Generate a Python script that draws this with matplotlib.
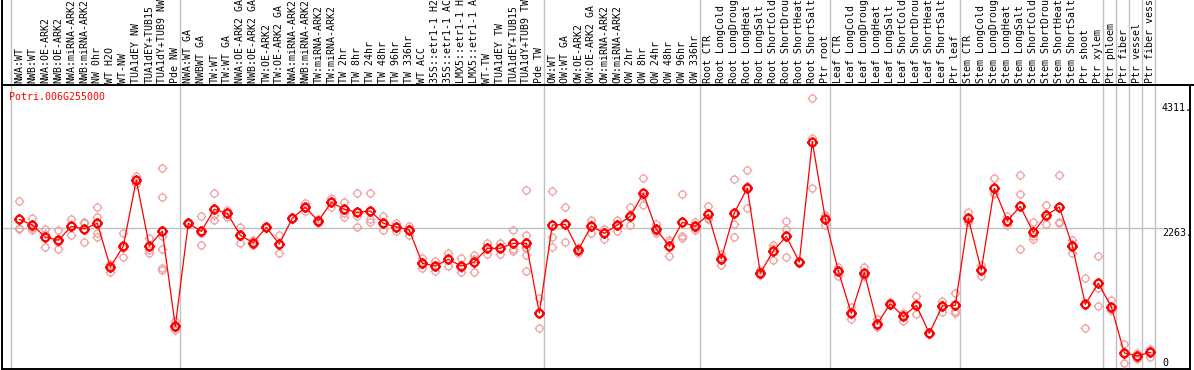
import numpy as np
import matplotlib
matplotlib.use("Agg")
import matplotlib.pyplot as plt
from matplotlib.path import Path

# ---------------- data ----------------
gene = "Potri.006G255000"

labels_g1 = ["NWA:WT", "NWB:WT", "NWA:OE-ARK2", "NWB:OE-ARK2", "NWA:miRNA-ARK2",
             "NWB:miRNA-ARK2", "NW 0hr", "WT H2O", "WT-NW", "TUA1dEY NW",
             "TUA1dEY+TUB15", "TUA1dY+TUB9 NW", "Pde NW"]
labels_g2 = ["NWA:WT GA", "NWBWT GA", "TW:WT", "TW:WT GA", "NWA:OE-ARK2 GA",
             "NWB:OE-ARK2 GA", "TW:OE-ARK2", "TW:OE-ARK2 GA", "NWA:miRNA-ARK2",
             "NWB:miRNA-ARK2", "TW:miRNA-ARK2", "TW:miRNA-ARK2", "TW 2hr", "TW 8hr",
             "TW 24hr", "TW 48hr", "TW 96hr", "TW 336hr", "WT ACC", "35S::etr1-1 H2",
             "35S::etr1-1 AC", "LMX5::etr1-1 H", "LMX5::etr1-1 A", "WT-TW",
             "TUA1dEY TW", "TUA1dEY+TUB15", "TUA1dY+TUB9 TW", "Pde TW"]
labels_g3 = ["OW:WT", "OW:WT GA", "OW:OE-ARK2", "OW:OE-ARK2 GA", "OW:miRNA-ARK2",
             "OW:miRNA-ARK2", "OW 2hr", "OW 8hr", "OW 24hr", "OW 48hr", "OW 96hr",
             "OW 336hr"]
labels_g4 = ["Root CTR", "Root LongCold", "Root LongDroug", "Root LongHeat",
             "Root LongSalt", "Root ShortCold", "Root ShortDrou", "Root ShortHeat",
             "Root ShortSalt", "Ptr root"]
labels_g5 = ["Leaf CTR", "Leaf LongCold", "Leaf LongDroug", "Leaf LongHeat",
             "Leaf LongSalt", "Leaf ShortCold", "Leaf ShortDrou", "Leaf ShortHeat",
             "Leaf ShortSalt", "Ptr leaf"]
labels_g6 = ["Stem CTR", "Stem LongCold", "Stem LongDroug", "Stem LongHeat",
             "Stem LongSalt", "Stem ShortCold", "Stem ShortDrou", "Stem ShortHeat",
             "Stem ShortSalt", "Ptr shoot", "Ptr xylem"]
labels_g7 = ["Ptr phloem", "Ptr fiber", "Ptr vessel", "Ptr fiber vess"]

groups = [labels_g1, labels_g2, labels_g3, labels_g4, labels_g5, labels_g6,
          [labels_g7[0]], [labels_g7[1]], [labels_g7[2]], [labels_g7[3]]]

means = [2400, 2307, 2111, 2056, 2285, 2242, 2335, 1619, 1958, 3045, 1963, 2209, 647,
         2335, 2203, 2564, 2498, 2138, 2018, 2269, 1996, 2416, 2597, 2373, 2679, 2564,
         2515, 2537, 2335, 2274, 2225, 1679, 1635, 1745, 1635, 1701, 1925, 1925, 2007,
         2007, 865, 2307, 2318, 1898, 2291, 2171, 2307, 2449, 2826, 2236, 1963, 2351,
         2285, 2482, 1756, 2504, 2914, 1521, 1881, 2122, 1701, 3673, 2411, 1554, 860,
         1526, 690, 1018, 811, 991, 532, 980, 991, 2416, 1570, 2908, 2378, 2613, 2187,
         2466, 2602, 1969, 1007, 1351, 969, 210, 161, 221]

replicates = [
    [2700, 2264, 2240], [2422, 2264, 2225], [2236, 1941, 2156], [2225, 1909, 2034],
    [2406, 2143, 2305], [2351, 2335, 2023], [2602, 2438, 2171, 2105], [1641, 1542, 1674],
    [2171, 1777, 1926], [3110, 2974, 3051], [2089, 1854, 1898],
    [3236, 2761, 2132, 1909, 1597, 1570], [734, 587, 620],
    [2351, 2318, 2336], [2449, 1979, 2181], [2826, 2389, 2477], [2553, 2444, 2497],
    [2274, 2018, 2122], [2056, 1974, 2024], [2275, 2262, 2270], [2138, 1854, 1996],
    [2425, 2408, 2416], [2673, 2531, 2587], [2411, 2345, 2363], [2744, 2608, 2685],
    [2679, 2498, 2438], [2832, 2455, 2269], [2832, 2411, 2351], [2449, 2220, 2336],
    [2335, 2214, 2273], [2291, 2143, 2241], [1761, 1608, 1668], [1712, 1554, 1639],
    [1843, 1641, 1751], [1761, 1542, 1602], [1816, 1532, 1755], [2018, 1832, 1925],
    [2018, 1832, 1925], [2225, 1876, 1920], [2881, 2143, 1952, 1925, 1816, 1554],
    [1106, 620, 870], [2864, 2105, 1952],
    [2602, 2023, 2330], [1925, 1843, 1926], [2389, 2171, 2313], [2240, 2072, 2200],
    [2389, 2203, 2330], [2602, 2313, 2432], [3072, 2630, 2776], [2324, 2171, 2213],
    [2062, 1799, 2028], [2810, 2132, 2089], [2362, 2231, 2262], [2613, 2422, 2411],
    [1832, 1646, 1790], [3061, 2318, 2111], [3209, 2586, 2947], [1570, 1482, 1511],
    [1985, 1728, 1930], [2373, 2236, 1783], [1720, 1690, 1693],
    [4383, 3727, 2908], [2471, 2307, 2455], [1624, 1471, 1567], [969, 761, 850],
    [1624, 1488, 1466], [772, 630, 668], [1045, 991, 1018], [871, 740, 822],
    [1144, 843, 986], [540, 525, 532],
    [1067, 882, 991], [1198, 871, 904], [2520, 2362, 2366], [1652, 1477, 1581],
    [3072, 2815, 2837], [2455, 2313, 2366], [3127, 2810, 1909], [2351, 2078, 2132],
    [2635, 2318, 2445], [3127, 2362, 2335], [2062, 1843, 2002],
    [1433, 996, 614], [1799, 1269, 974], [1078, 914, 915], [357, 40, 233],
    [215, 117, 151], [270, 150, 243]]

ytick_values = [0, 2263, 4311]
ytick_labels = ["0", "2263.", "4311."]

# ---------------- layout helpers ----------------
W, H = 1194, 370
X0, DX = 19.3, 13.0          # pixel of first category and spacing


def px2i(p):
    return (p - X0) / DX


def py2v(p):
    return (365.8 - p) * 2263 / 138.1


labels = [l for g in groups for l in g]
n = len(labels)
xs = np.arange(n)
starts = np.cumsum([0] + [len(g) for g in groups])  # group boundaries
bounds = starts - 0.64

fig = plt.figure(figsize=(W / 100, H / 100), dpi=100)
fig.patch.set_facecolor("white")

L, R, TOP, BOT = 1.5, 1190.0, 85.0, 369.0
ax = fig.add_axes([L / W, (H - BOT) / H, (R - L) / W, (BOT - TOP) / H])
ax.set_xlim(px2i(L), px2i(R))
ax.set_ylim(py2v(BOT), py2v(TOP))
ax.set_xticks([])
ax.set_yticks([])
for s in ax.spines.values():
    s.set_color("black")
    s.set_linewidth(1.4)
    s.set_zorder(1)

hx = fig.add_axes([L / W, (H - TOP) / H, (W - L) / W, TOP / H])
hx.set_xlim(px2i(L), px2i(W))
hx.set_ylim(0, TOP)
hx.set_xticks([])
hx.set_yticks([])
for k, s in hx.spines.items():
    s.set_visible(k in ("left", "bottom"))
    s.set_color("black")
    s.set_linewidth(1.4)

grid_c = "#c0c0c0"
for b in bounds:
    ax.axvline(b, color=grid_c, lw=1.0, zorder=0)
    hx.axvline(b, color=grid_c, lw=1.0, zorder=0)

# horizontal grid line at middle tick
ax.axhline(ytick_values[1], xmin=0, xmax=(1162 - L) / (R - L), color=grid_c,
           lw=1.0, zorder=0)

# y tick labels at right
mono = "DejaVu Sans Mono"
lx = (1162 - L) / (R - L)
for v, t in zip(ytick_values, ytick_labels):
    yv = py2v(357.5) if v == 0 else v
    ax.text(lx, yv, t, transform=ax.get_yaxis_transform(), ha="left",
            va="top", fontsize=7.2, family=mono, color="black", zorder=6)

# header labels
for x, lab in zip(xs, labels):
    hx.text(x, 2.0, lab, rotation=90, ha="center", va="bottom", fontsize=7.1,
            family=mono, color="black")

# marker: circle with small ticks
t = np.linspace(0, 2 * np.pi, 33)
circ_v = np.column_stack([np.cos(t), np.sin(t)])
verts = [tuple(p) for p in circ_v]
codes = [Path.MOVETO] + [Path.LINETO] * (len(circ_v) - 1)
r1, r2 = 1.0, 1.4
for a in (0, np.pi / 2, np.pi, 3 * np.pi / 2):
    verts += [(r1 * np.cos(a), r1 * np.sin(a)), (r2 * np.cos(a), r2 * np.sin(a))]
    codes += [Path.MOVETO, Path.LINETO]
mk = Path(verts, codes)

pink = "#f0a0a0"
for x, reps in zip(xs, replicates):
    ax.plot([x] * len(reps), reps, linestyle="none", marker=mk, markersize=7.0,
            mfc="none", mec=pink, mew=0.9, zorder=2)

ax.plot(xs, means, color="#ff0000", lw=0.9, zorder=3)
ax.plot(xs, means, linestyle="none", marker=mk, markersize=7.6, mfc="none",
        mec="#ff0000", mew=1.6, zorder=4)

fig.text(9.3 / W, 1 - 97 / H, gene, color="#ff0000", fontsize=7.1, family=mono,
         ha="left", va="center")

fig.savefig("out.png", dpi=100)
